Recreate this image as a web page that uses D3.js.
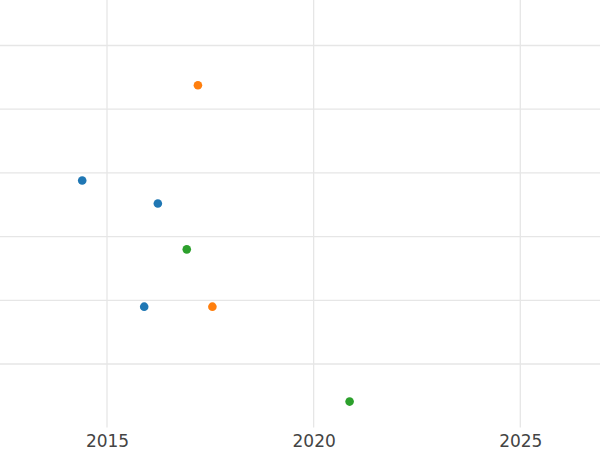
<!DOCTYPE html>
<html><head><meta charset="utf-8">
<script src="https://cdn.jsdelivr.net/npm/d3@7"></script>
<style>html,body{margin:0;padding:0;background:#fff;}svg{display:block;}</style>
</head><body>
<svg id="chart" width="600" height="450"></svg>
<script>
const seriesNames = ["A", "B", "C"];
const seriesColors = ["#1f77b4", "#ff7f0e", "#2ca02c"];
const seriesA_x = [2014.40, 2016.23, 2015.90];
const seriesA_y = [38.8, 35.2, 19.0];
const seriesB_x = [2017.20, 2017.55];
const seriesB_y = [53.75, 19.0];
const seriesC_x = [2016.93, 2020.87];
const seriesC_y = [28.0, 4.1];
const xTicks = [2015, 2020, 2025];
const yTicks = [10, 20, 30, 40, 50, 60];

const svg = d3.select("#chart");
const W = 600, H = 450, plotBottom = 427.5;
const x = d3.scaleLinear().domain([2015, 2025]).range([107, 520.3]);
const y = d3.scaleLinear().domain([10, 60]).range([364, 45.5]);

const g = svg.append("g");
g.selectAll(".hg").data(yTicks).enter().append("line")
  .attr("x1", 0).attr("x2", W)
  .attr("y1", d => y(d)).attr("y2", d => y(d))
  .attr("stroke", "#e6e6e6").attr("stroke-width", 1.3);
g.selectAll(".vg").data(xTicks).enter().append("line")
  .attr("x1", d => x(d)).attr("x2", d => x(d))
  .attr("y1", 0).attr("y2", plotBottom)
  .attr("stroke", "#e6e6e6").attr("stroke-width", 1.3);

const xAxis = d3.axisBottom(x).tickValues(xTicks).tickFormat(d3.format("d")).tickSize(0).tickPadding(7);
const ax = svg.append("g").attr("transform", `translate(0,${plotBottom})`).call(xAxis);
ax.select(".domain").remove();
ax.selectAll("text").attr("font-family", "DejaVu Sans").attr("font-size", 17).attr("fill", "#444");

const data = [];
[[seriesA_x, seriesA_y], [seriesB_x, seriesB_y], [seriesC_x, seriesC_y]].forEach((s, i) => {
  s[0].forEach((xv, j) => data.push({x: xv, y: s[1][j], s: i}));
});
svg.append("g").selectAll("circle").data(data).enter().append("circle")
  .attr("cx", d => x(d.x)).attr("cy", d => y(d.y)).attr("r", 4.3)
  .attr("fill", d => seriesColors[d.s]);
</script>
</body></html>
